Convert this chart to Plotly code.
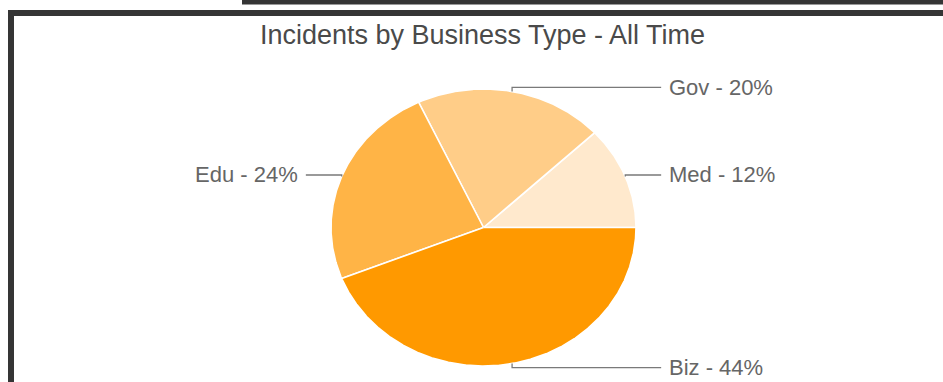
import numpy as np
import plotly.graph_objects as go

# ---- data -------------------------------------------------------------
categories = ["Med", "Gov", "Edu", "Biz"]
shares = [12, 20, 24, 44]          # percent of incidents
colors = ["#FFE9CD", "#FFCD88", "#FFB446", "#FF9900"]
title_text = "Incidents by Business Type - All Time"

# ---- geometry (pixels) ------------------------------------------------
W, H = 943, 382
CX, CY = 483.5, 227.5      # pie centre
RX, RY = 152.5, 138.5      # pie radii (drawn a little wider than tall)

# axis ranges so that the unit circle lands on the pie ellipse
x_range = [(0 - CX) / RX, (W - CX) / RX]
y_range = [(CY - H) / RY, CY / RY]


def px_x(p):
    return p / W


def px_y(p):
    return 1 - p / H


fig = go.Figure()

total = float(sum(shares))
start = 0.0
leader_x_end = 1.165        # where the horizontal leader stops
label_gap = 0.04
annotations = []

for name, val, col in zip(categories, shares, colors):
    sweep = 360.0 * val / total
    n = max(int(sweep * 3), 3)
    t = np.radians(np.linspace(start, start + sweep, n))
    xs = np.concatenate([[0.0], np.cos(t), [0.0]])
    ys = np.concatenate([[0.0], np.sin(t), [0.0]])
    fig.add_trace(go.Scatter(
        x=xs, y=ys, mode="lines", fill="toself", fillcolor=col,
        line=dict(color="white", width=1.6),
        hoverinfo="text", text=f"{name} - {val}%", showlegend=False,
    ))

    # leader line from the slice edge at its mid angle
    mid = np.radians(start + sweep / 2)
    sx, sy = np.cos(mid), np.sin(mid)
    ey = 1.03 * sy
    side = 1 if sx >= 0 else -1
    lx = side * leader_x_end
    fig.add_trace(go.Scatter(
        x=[sx, sx, lx], y=[sy, ey, ey], mode="lines",
        line=dict(color="#7a7a7a", width=1.3),
        hoverinfo="skip", showlegend=False,
    ))
    annotations.append(dict(
        x=lx + side * label_gap, y=ey, xref="x", yref="y",
        text=f"{name} - {val}%", showarrow=False,
        xanchor="left" if side > 0 else "right", yanchor="middle",
        font=dict(family="Liberation Sans, Arial, sans-serif", size=22, color="#666666"),
    ))
    start += sweep

# page frame: dark bar on the left and top, plus a short bar above
frame_color = "#353535"
shapes = [
    dict(type="rect", xref="paper", yref="paper",
         x0=px_x(8), x1=px_x(14), y0=px_y(H), y1=px_y(10),
         fillcolor=frame_color, line=dict(width=0)),
    dict(type="rect", xref="paper", yref="paper",
         x0=px_x(8), x1=px_x(W), y0=px_y(16), y1=px_y(10),
         fillcolor=frame_color, line=dict(width=0)),
    dict(type="rect", xref="paper", yref="paper",
         x0=px_x(242), x1=px_x(W), y0=px_y(4.5), y1=px_y(0),
         fillcolor=frame_color, line=dict(width=0)),
]

fig.update_layout(
    width=W, height=H,
    margin=dict(l=0, r=0, t=0, b=0),
    paper_bgcolor="white", plot_bgcolor="white",
    title=dict(
        text=title_text, x=px_x(482.5), y=px_y(35),
        xanchor="center", yanchor="middle", xref="paper", yref="paper",
        font=dict(family="Liberation Sans, Arial, sans-serif", size=27, color="#4a4a4a"),
    ),
    xaxis=dict(range=x_range, visible=False, fixedrange=True),
    yaxis=dict(range=y_range, visible=False, fixedrange=True),
    shapes=shapes,
    annotations=annotations,
    showlegend=False,
)

fig.write_html("out.html")
